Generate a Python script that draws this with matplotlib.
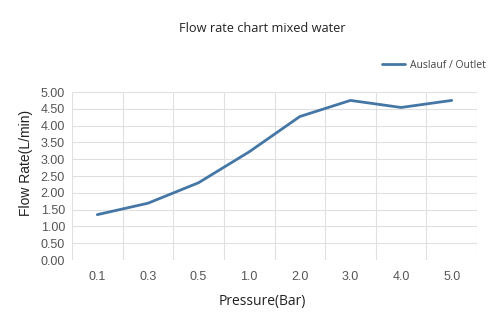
import matplotlib
matplotlib.use("Agg")
import matplotlib.pyplot as plt
from matplotlib.ticker import MultipleLocator, FixedLocator

categories = ["0.1", "0.3", "0.5", "1.0", "2.0", "3.0", "4.0", "5.0"]
flow = [1.35, 1.69, 2.30, 3.22, 4.27, 4.75, 4.54, 4.75]
series_name = "Auslauf / Outlet"

fig = plt.figure(figsize=(5, 3.31), dpi=100)
ax = fig.add_axes([0.144, 0.2145, 0.81, 0.5075])

x = list(range(len(categories)))
ax.plot(x, flow, color="#4577a6", lw=2.0, label=series_name, solid_capstyle="round")

ax.set_xlim(-0.5, len(categories) - 0.5)
ax.set_ylim(0, 5)
ax.yaxis.set_major_locator(MultipleLocator(0.5))
ax.set_xticks(x)
ax.set_xticklabels(categories)
ax.xaxis.set_minor_locator(FixedLocator([i - 0.5 for i in range(len(categories) + 1)]))
ax.grid(True, which="minor", axis="x", color="#e0e0e0", lw=0.8)
ax.grid(True, which="major", axis="y", color="#e0e0e0", lw=0.8)
ax.set_axisbelow(True)
for s in ax.spines.values():
    s.set_visible(False)
ax.tick_params(axis="both", which="both", length=0)
ax.tick_params(axis="y", labelsize=9, labelcolor="#555555", pad=5)
ax.tick_params(axis="x", labelsize=9, labelcolor="#555555", pad=8)
for lab in ax.get_xticklabels() + ax.get_yticklabels():
    lab.set_fontfamily("Liberation Sans")
ax.yaxis.set_major_formatter(matplotlib.ticker.FormatStrFormatter("%.2f"))

fig.text(0.052, 0.508, "Flow Rate(L/min)", rotation=90, ha="center", va="center",
         fontsize=10, fontfamily="Liberation Sans", color="#222222")
fig.text(0.524, 0.088, "Pressure(Bar)", ha="center", va="center", fontsize=10, fontfamily="Open Sans", color="#222222")
fig.text(0.524, 0.915, "Flow rate chart mixed water", ha="center", va="center", fontsize=9.2, fontfamily="Open Sans", color="#222222")

leg = fig.legend(loc="center right", bbox_to_anchor=(0.99, 0.803), frameon=False,
                 prop={"family": "Open Sans", "size": 7.5}, handlelength=2.2, handletextpad=0.5)
for t in leg.get_texts():
    t.set_color("#444444")

fig.savefig("out.png", dpi=100)
